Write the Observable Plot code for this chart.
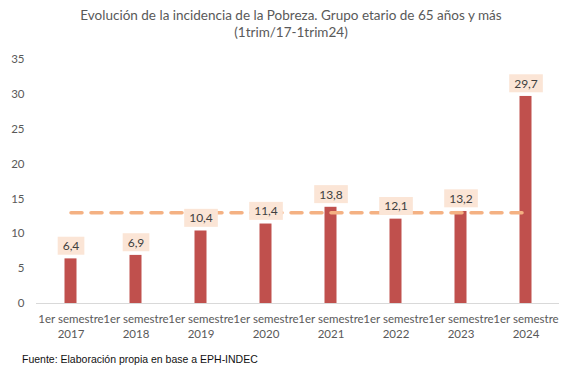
<!DOCTYPE html>
<html>
<head>
<meta charset="utf-8">
<script src="https://cdn.jsdelivr.net/npm/d3@7"></script>
<script src="https://cdn.jsdelivr.net/npm/@observablehq/plot@0.6"></script>
<style>
  html, body { margin: 0; padding: 0; background: #fff; }
  #wrap { position: relative; width: 582px; height: 380px; overflow: hidden; }
  #title { position: absolute; left: 0; top: 7px; width: 582px; text-align: center;
           font-family: Lato, "Open Sans", sans-serif; font-size: 13.5px; line-height: 17px; color: #595959; }
  #caption { position: absolute; left: 22px; top: 353px; font-family: "Liberation Sans", Arial, sans-serif;
             font-size: 10.5px; color: #111; }
  #chart { position: absolute; left: 0; top: 0; }
</style>
</head>
<body>
<div id="wrap">
  <div id="chart"></div>
  <div id="title">Evolución de la incidencia de la Pobreza. Grupo etario de 65 años y más<br>(1trim/17-1trim24)</div>
  <div id="caption">Fuente: Elaboración propia en base a EPH-INDEC</div>
</div>
<script>
const years = ["2017", "2018", "2019", "2020", "2021", "2022", "2023", "2024"];
const periodPrefix = "1er semestre";
const values = [6.4, 6.9, 10.4, 11.4, 13.8, 12.1, 13.2, 29.7];
const valueLabels = ["6,4", "6,9", "10,4", "11,4", "13,8", "12,1", "13,2", "29,7"];
const average = 13.0;
const yTicks = [0, 5, 10, 15, 20, 25, 30, 35];

const data = years.map((y, i) => ({year: y, value: values[i], label: valueLabels[i], avg: average}));

const plot = Plot.plot({
  width: 582,
  height: 380,
  marginTop: 59,
  marginBottom: 77,
  marginLeft: 36,
  marginRight: 23,
  style: {fontFamily: "Lato, 'Open Sans', sans-serif", fontSize: "11px", color: "#595959", background: "transparent"},
  x: {domain: years, padding: 0, label: null},
  y: {domain: [0, 35], label: null},
  marks: [
    Plot.axisY({ticks: yTicks, tickSize: 0, tickPadding: 12, fontSize: 11.5, fill: "#595959", label: null}),
    Plot.axisX({tickSize: 0, tickPadding: 9, fontSize: 11.5, fill: "#595959", lineHeight: 1.3,
                tickFormat: d => periodPrefix + "\n" + d, label: null}),
    Plot.barY(data, {x: "year", y: "value", fill: "#C0504D", insetLeft: 26.5, insetRight: 26.5}),
    Plot.ruleY([0], {stroke: "#D9D9D9", strokeWidth: 1}),
    Plot.lineY(data, {x: "year", y: "avg", stroke: "#F4B183", strokeWidth: 3.5, strokeDasharray: "11,9"}),
    Plot.text(data, {x: "year", y: "value", text: "label", dy: -12.5, fontSize: 12, fill: "#404040",
                     lineAnchor: "middle"})
  ]
});

document.getElementById("chart").appendChild(plot);

// Add background boxes behind value labels
const labelSet = new Set(valueLabels);
plot.querySelectorAll('g[aria-label="text"] text').forEach(t => {
  if (!labelSet.has(t.textContent)) return;
  const b = t.getBBox();
  const r = document.createElementNS("http://www.w3.org/2000/svg", "rect");
  const padX = 5, h = 18;
  r.setAttribute("x", b.x - padX);
  r.setAttribute("y", b.y + b.height / 2 - h / 2);
  r.setAttribute("width", b.width + 2 * padX);
  r.setAttribute("height", h);
  r.setAttribute("fill", "#FBE5D6");
  if (t.getAttribute("transform")) r.setAttribute("transform", t.getAttribute("transform"));
  t.parentNode.insertBefore(r, t);
});
</script>
</body>
</html>
